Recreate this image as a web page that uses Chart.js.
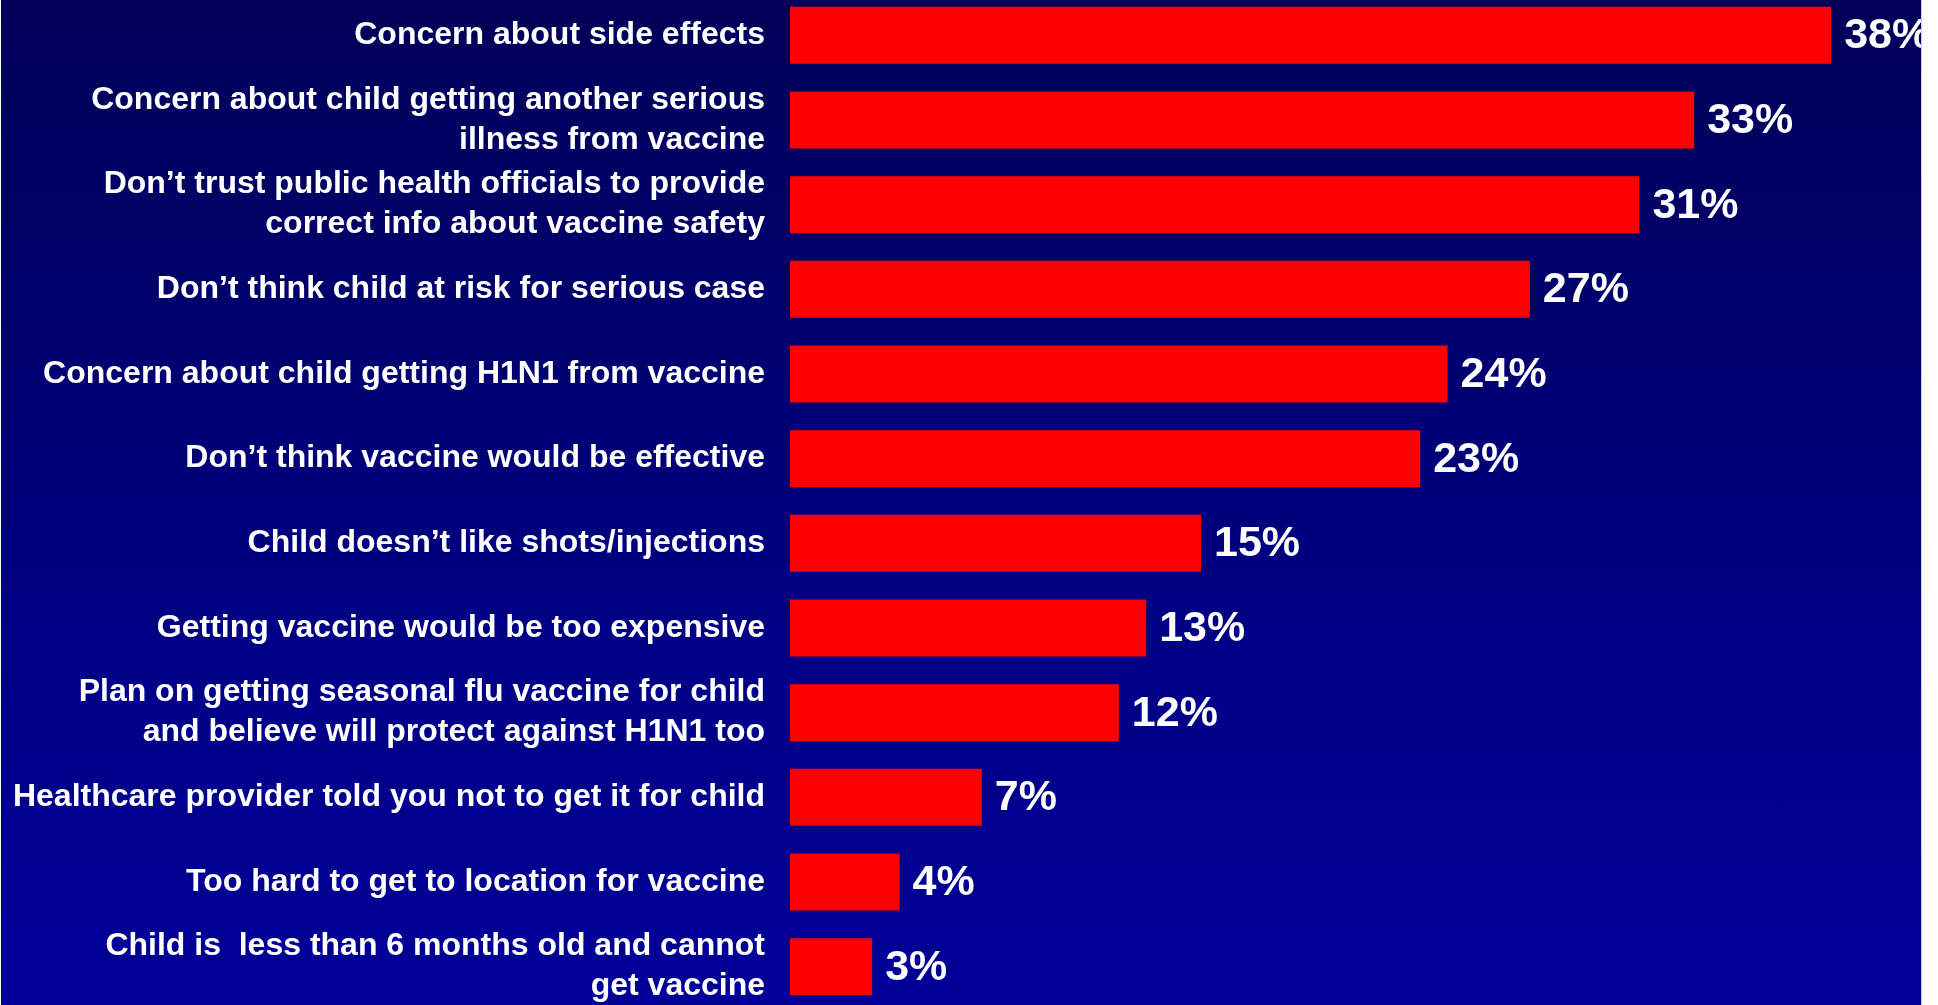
<!DOCTYPE html>
<html lang="en">

<head>
    <meta charset="UTF-8">
    <title>Reasons for not vaccinating child</title>
    <script src="https://cdn.jsdelivr.net/npm/chart.js"></script>
    <style>
        html, body {
            margin: 0;
            padding: 0;
            width: 1938px;
            height: 1005px;
            overflow: hidden;
            background: #ffffff;
        }

        /* blue panel, thin light rim on both sides like the slide */
        .panel {
            position: absolute;
            left: 1px;
            top: 0;
            width: 1920px;
            height: 1005px;
            overflow: hidden;
            background: linear-gradient(to bottom, #000058 0%, #00006c 30%, #000086 65%, #000098 100%);
            border-right: 1px solid #c8c8f0;
        }

        .panel canvas {
            position: absolute;
            left: 0;
            top: -7px;
        }
    </style>
</head>

<body>
    <div class="panel">
        <canvas id="chart" width="1920" height="1016"></canvas>
    </div>

    <script>
        // Kategorien (mehrzeilig wie auf der Folie)
        var categories = [
            ['Concern about side effects'],
            ['Concern about child getting another serious', 'illness from vaccine'],
            ['Don\u2019t trust public health officials to provide', 'correct info about vaccine safety'],
            ['Don\u2019t think child at risk for serious case'],
            ['Concern about child getting H1N1 from vaccine'],
            ['Don\u2019t think vaccine would be effective'],
            ['Child doesn\u2019t like shots/injections'],
            ['Getting vaccine would be too expensive'],
            ['Plan on getting seasonal flu vaccine for child', 'and believe will protect against H1N1 too'],
            ['Healthcare provider told you not to get it for child'],
            ['Too hard to get to location for vaccine'],
            ['Child is  less than 6 months old and cannot', 'get vaccine']
        ];

        // Prozentwerte
        var percents = [38, 33, 31, 27, 24, 23, 15, 13, 12, 7, 4, 3];

        var fontFamily = '"Liberation Sans", Arial, Helvetica, sans-serif';

        // Prozent-Beschriftung am Balkenende
        var valueLabels = {
            id: 'valueLabels',
            afterDatasetsDraw: function (chart) {
                var ctx = chart.ctx;
                var meta = chart.getDatasetMeta(0);
                ctx.save();
                ctx.fillStyle = '#ffffff';
                ctx.font = 'bold 43px ' + fontFamily;
                ctx.textAlign = 'left';
                ctx.textBaseline = 'middle';
                meta.data.forEach(function (bar, i) {
                    ctx.fillText(percents[i] + '%', bar.x + 13, bar.y + 1);
                });
                ctx.restore();
            }
        };

        var ctx = document.getElementById('chart').getContext('2d');
        var chart = new Chart(ctx, {
            type: 'bar',
            data: {
                labels: categories,
                datasets: [{
                    data: percents,
                    backgroundColor: '#ff0000',
                    borderWidth: 0,
                    barPercentage: 0.674,
                    categoryPercentage: 1.0
                }]
            },
            options: {
                indexAxis: 'y',
                responsive: false,
                animation: false,
                layout: {
                    padding: { left: 0, right: 35, top: 0, bottom: 0 }
                },
                plugins: {
                    legend: { display: false },
                    tooltip: { enabled: false }
                },
                scales: {
                    x: {
                        display: false,
                        min: 0,
                        max: 40
                    },
                    y: {
                        grid: { display: false, drawTicks: false },
                        border: { display: false },
                        afterFit: function (scale) {
                            // feste Breite, kein Zusatzabstand oben/unten
                            scale.width = 789;
                            scale.paddingTop = 0;
                            scale.paddingBottom = 0;
                        },
                        ticks: {
                            color: '#ffffff',
                            padding: 25,
                            autoSkip: false,
                            font: {
                                family: fontFamily,
                                size: 32,
                                weight: 'bold',
                                lineHeight: '40px'
                            }
                        }
                    }
                }
            },
            plugins: [valueLabels]
        });
    </script>
</body>

</html>
